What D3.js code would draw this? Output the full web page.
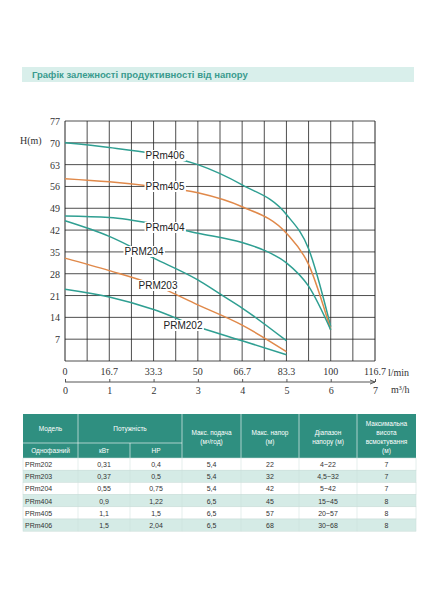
<!DOCTYPE html><html><head><meta charset="utf-8"><script src="https://cdn.jsdelivr.net/npm/d3@7"></script>
<style>body{margin:0;background:#fff}</style></head><body><svg id="c" width="437" height="608"></svg><script>
const yTicks=[0,7,14,21,28,35,42,49,56,63,70,77];
const lminLabels=["0","16.7","33.3","50","66.7","83.3","100","116.7"];
const m3hTicks=[0,1,2,3,4,5,6,7];
const series=[
{name:"PRm406",color:"#2f9f92",pts:[[0,70],[1,68.5],[2,66.5],[3,63],[4,56.5],[5,47],[5.5,36],[6,11]],lab:[165,155]},
{name:"PRm405",color:"#e0894a",pts:[[0,58.5],[1,57.5],[2,56],[3,54],[4,49.5],[5,41],[5.5,31],[6,10]],lab:[165,186]},
{name:"PRm404",color:"#2f9f92",pts:[[0,46.5],[1,46],[2,44],[3,41],[4,38],[4.5,35.5],[5,31.5],[5.5,24],[6,10]],lab:[165,227]},
{name:"PRM204",color:"#2f9f92",pts:[[0,45],[1,40],[2,33],[3,26],[3.5,21.5],[4,17],[5,6.5]],lab:[144,251]},
{name:"PRM203",color:"#e0894a",pts:[[0,33],[1,29],[2,24.5],[3,18],[4,11.5],[5,3]],lab:[158,285]},
{name:"PRM202",color:"#2f9f92",pts:[[0,23],[1,20.5],[2,16.5],[3,11],[4,6.5],[5,2]],lab:[183,325]}];
const rows=[["PRm202","0,31","0,4","5,4","22","4~22","7"],["PRm203","0,37","0,5","5,4","32","4,5~32","7"],["PRm204","0,55","0,75","5,4","42","5~42","7"],["PRm404","0,9","1,22","6,5","45","15~45","8"],["PRm405","1,1","1,5","6,5","57","20~57","8"],["PRm406","1,5","2,04","6,5","68","30~68","8"]];

const svg=d3.select("#c");
svg.append("rect").attr("x",22).attr("y",67).attr("width",392).attr("height",15).attr("fill","#d9efeb");
svg.append("text").attr("x",32).attr("y",78).text("Графік залежності продуктивності від напору").attr("font-family","Liberation Sans").attr("font-weight","bold").attr("font-size",9.5).attr("fill","#3a9b8e");
const x=d3.scaleLinear().domain([0,7]).range([65,375]);
const y=d3.scaleLinear().domain([0,77]).range([361,121]);
const g=svg.append("g");
d3.range(0,7.01,0.5).forEach(v=>g.append("line").attr("x1",x(v)).attr("x2",x(v)).attr("y1",y(0)).attr("y2",y(77)).attr("stroke","#222").attr("stroke-width",v==0||v==7?1:0.8));
yTicks.forEach(v=>g.append("line").attr("x1",x(0)).attr("x2",x(7)).attr("y1",y(v)).attr("y2",y(v)).attr("stroke","#222").attr("stroke-width",0.8));
const serif="Liberation Serif";
yTicks.slice(1).forEach(v=>g.append("text").attr("x",x(0)-5).attr("y",y(v)+4).attr("text-anchor","end").attr("font-family",serif).attr("font-size",10).attr("fill","#333").text(v));
lminLabels.forEach((t,i)=>g.append("text").attr("x",x(i)).attr("y",375).attr("text-anchor","middle").attr("font-family",serif).attr("font-size",10).attr("fill","#333").text(t));
g.append("text").attr("x",20).attr("y",144).attr("font-family",serif).attr("font-size",10).attr("fill","#333").text("H(m)");
g.append("text").attr("x",388).attr("y",376).attr("font-family",serif).attr("font-size",10).attr("fill","#333").text("l/min");
g.append("text").attr("x",391).attr("y",393).attr("font-family",serif).attr("font-size",10).attr("fill","#333").text("m³/h");
const ax=d3.axisBottom(x).tickValues(m3hTicks).tickFormat(d3.format("d")).tickSize(-3).tickPadding(5);
const axg=svg.append("g").attr("transform","translate(0,382)").call(ax);
axg.select(".domain").attr("d",`M${x(0)},0H${x(7)}`).attr("stroke","#555");
axg.selectAll("text").attr("font-family",serif).attr("font-size",10).attr("fill","#333");
axg.selectAll("line").attr("stroke","#555");
svg.append("path").attr("d",`M${x(7)-5},-2L${x(7)},0L${x(7)-5},2`).attr("transform","translate(0,382)").attr("fill","none").attr("stroke","#555");
const line=d3.line().x(d=>x(d[0])).y(d=>y(d[1])).curve(d3.curveMonotoneX);
series.forEach(s=>g.append("path").attr("d",line(s.pts)).attr("fill","none").attr("stroke",s.color).attr("stroke-width",1.5));
const L=svg.append("g");
series.forEach(s=>{const t=L.append("text").attr("x",s.lab[0]).attr("y",s.lab[1]+4).attr("text-anchor","middle").attr("font-family","Liberation Sans").attr("font-size",10).attr("fill","#222").text(s.name);
 const b=t.node().getBBox();L.insert("rect",":first-child").attr("x",b.x-1).attr("y",b.y).attr("width",b.width+2).attr("height",b.height).attr("fill","#fff");});
const cx=[23,78,130,182,241,299,357,416];
const T=svg.append("g");const hf="Liberation Sans";
T.append("rect").attr("x",23).attr("y",414).attr("width",393).attr("height",44).attr("fill","#2f8f80");
const hc=(x1,x2,yy,txt)=>{const lines=Array.isArray(txt)?txt:[txt];lines.forEach((l,i)=>T.append("text").attr("x",(x1+x2)/2).attr("y",yy+i*9-(lines.length-1)*4.5+3).attr("text-anchor","middle").attr("font-family",hf).attr("font-size",6.5).attr("fill","#fff").text(l));};
hc(cx[0],cx[1],428,"Модель");hc(cx[1],cx[3],428,"Потужність");
hc(cx[0],cx[1],450,"Однофазний");hc(cx[1],cx[2],450,"кВт");hc(cx[2],cx[3],450,"HP");
hc(cx[3],cx[4],436,["Макс. подача","(м³/год)"]);hc(cx[4],cx[5],436,["Макс. напор","(м)"]);hc(cx[5],cx[6],436,["Діапазон","напору (м)"]);hc(cx[6],cx[7],436,["Максимальна","висота","всмоктування","(м)"]);
T.append("line").attr("x1",cx[0]).attr("x2",cx[3]).attr("y1",443).attr("y2",443).attr("stroke","#fff").attr("stroke-width",0.6);
[1,3,4,5,6].forEach(i=>T.append("line").attr("x1",cx[i]).attr("x2",cx[i]).attr("y1",414).attr("y2",458).attr("stroke","#fff").attr("stroke-width",0.6));
T.append("line").attr("x1",cx[2]).attr("x2",cx[2]).attr("y1",443).attr("y2",458).attr("stroke","#fff").attr("stroke-width",0.6);
rows.forEach((r,i)=>{const yy=458+i*12.2;T.append("rect").attr("x",23).attr("y",yy).attr("width",393).attr("height",12.2).attr("fill",i%2?"#d5ebe6":"#fff").attr("stroke","#c8dcd8").attr("stroke-width",0.5);
 r.forEach((v,j)=>T.append("text").attr("x",j==0?cx[0]+2:(cx[j]+cx[j+1])/2).attr("y",yy+9).attr("text-anchor",j==0?"start":"middle").attr("font-family",hf).attr("font-size",7).attr("fill","#333").text(v));
 cx.slice(1,7).forEach(c=>T.append("line").attr("x1",c).attr("x2",c).attr("y1",yy).attr("y2",yy+12.2).attr("stroke","#c8dcd8").attr("stroke-width",0.5));});
</script></body></html>
